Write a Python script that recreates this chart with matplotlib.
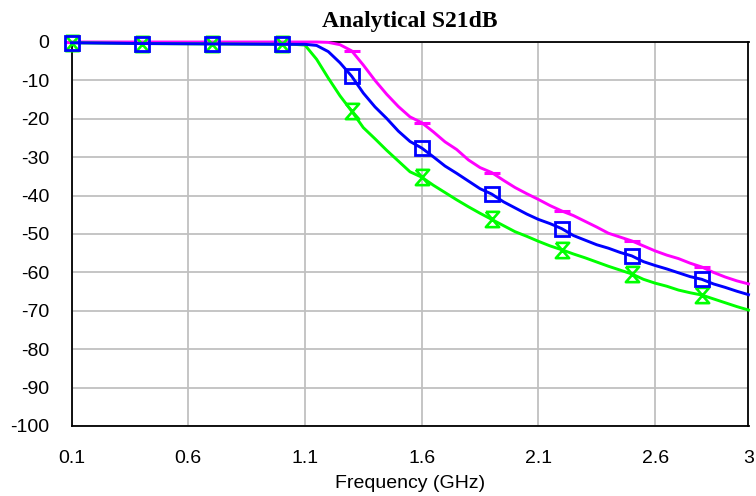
import matplotlib
matplotlib.use("Agg")
import matplotlib.pyplot as plt
import numpy as np

freq = [0.1, 0.4, 0.7, 1.0, 1.05, 1.1, 1.15, 1.2, 1.25, 1.3, 1.35, 1.4, 1.45, 1.5,
        1.55, 1.6, 1.65, 1.7, 1.75, 1.8, 1.85, 1.9, 1.95, 2.0, 2.05, 2.1, 2.15, 2.2,
        2.25, 2.3, 2.35, 2.4, 2.45, 2.5, 2.55, 2.6, 2.65, 2.7, 2.75, 2.8, 2.85, 2.9,
        2.95, 3.0]

s21_magenta = [0.0, 0.0, 0.0, 0.0, 0.0, 0.0, 0.0, -0.1, -0.7, -2.3, -6.0, -10.0, -13.6,
               -16.8, -19.5, -21.0, -23.4, -26.0, -28.0, -30.7, -32.7, -34.0, -36.0,
               -37.9, -39.5, -41.0, -42.6, -44.0, -45.2, -46.7, -48.2, -49.8, -50.8,
               -51.8, -53.1, -54.4, -55.5, -56.4, -57.6, -58.6, -60.0, -61.2, -62.2, -63.0]

s21_blue = [-0.2, -0.4, -0.5, -0.6, -0.6, -0.6, -0.9, -2.5, -5.4, -8.9, -13.3, -16.9,
            -19.9, -23.2, -25.9, -27.6, -29.9, -32.3, -34.2, -36.2, -38.2, -39.6, -41.6,
            -43.2, -44.8, -46.2, -47.3, -48.6, -50.4, -51.6, -52.8, -53.7, -54.8, -55.7,
            -57.2, -58.2, -59.1, -60.1, -61.1, -61.8, -63.0, -63.9, -64.9, -65.8]

s21_green = [-0.2, -0.4, -0.5, -0.6, -0.6, -0.8, -4.5, -9.4, -14.0, -18.0, -22.3, -25.2,
             -28.2, -31.0, -33.8, -35.2, -37.3, -39.2, -41.1, -42.9, -44.6, -46.2, -47.8,
             -49.4, -50.6, -51.9, -53.1, -54.1, -55.2, -56.2, -57.3, -58.4, -59.4, -60.4,
             -61.8, -62.8, -63.6, -64.6, -65.3, -65.9, -66.9, -67.9, -68.9, -69.8]

marker_freqs = [0.1, 0.4, 0.7, 1.0, 1.3, 1.6, 1.9, 2.2, 2.5, 2.8]
x_ticks = [0.1, 0.6, 1.1, 1.6, 2.1, 2.6, 3.0]
x_ticklabels = ["0.1", "0.6", "1.1", "1.6", "2.1", "2.6", "3"]
y_ticks = [0, -10, -20, -30, -40, -50, -60, -70, -80, -90, -100]

fig = plt.figure(figsize=(7.56, 4.96), dpi=100)
W, H = 756, 496
ax = fig.add_axes([71.5 / W, 1 - 426 / H, (748.5 - 71.5) / W, (426 - 42) / H])

markidx = [i for i, f in enumerate(freq) if any(abs(f - m) < 1e-9 for m in marker_freqs)]

hourglass = [(-1, 1.15), (1, 1.15), (-1, -1.15), (1, -1.15), (-1, 1.15)]

ax.plot(freq, s21_magenta, color="#ff00ff", lw=2.1, marker="_", markersize=12,
        markeredgewidth=2.2, markevery=markidx, clip_on=False, zorder=3)
ax.plot(freq, s21_green, color="#00ff00", lw=2.1, marker=hourglass, markersize=11,
        markerfacecolor="none", markeredgecolor="#00ff00", markeredgewidth=1.9,
        markevery=markidx, clip_on=False, zorder=4)
ax.plot(freq, s21_blue, color="#0000ff", lw=2.1, marker="s", markersize=10,
        markerfacecolor="none", markeredgecolor="#0000ff", markeredgewidth=2.0,
        markevery=markidx, clip_on=False, zorder=5)

ax.set_xlim(0.1, 3.0)
ax.set_ylim(-100, 0)
ax.set_xticks(x_ticks)
ax.set_xticklabels(x_ticklabels)
ax.set_yticks(y_ticks)
ax.set_yticklabels([str(v) for v in y_ticks])
ax.tick_params(axis="both", length=0, labelsize=14, colors="black")
ax.tick_params(axis="x", pad=17)
ax.tick_params(axis="y", pad=16)
for lab in ax.get_xticklabels() + ax.get_yticklabels():
    lab.set_fontfamily("Liberation Sans")

ax.grid(True, color="#c0c0c0", lw=1.3)
ax.set_axisbelow(True)
for sp in ax.spines.values():
    sp.set_color("black")
    sp.set_linewidth(1.3)

ax.set_xlabel("Frequency (GHz)", fontsize=14, family="Liberation Sans", labelpad=6)
fig.text((71.5 + 748.5) / 2 / W, 1 - 22 / H, "Analytical S21dB", ha="center", va="center",
         fontsize=17, fontweight="bold", family="Liberation Serif")

fig.savefig("out.png", dpi=100)
